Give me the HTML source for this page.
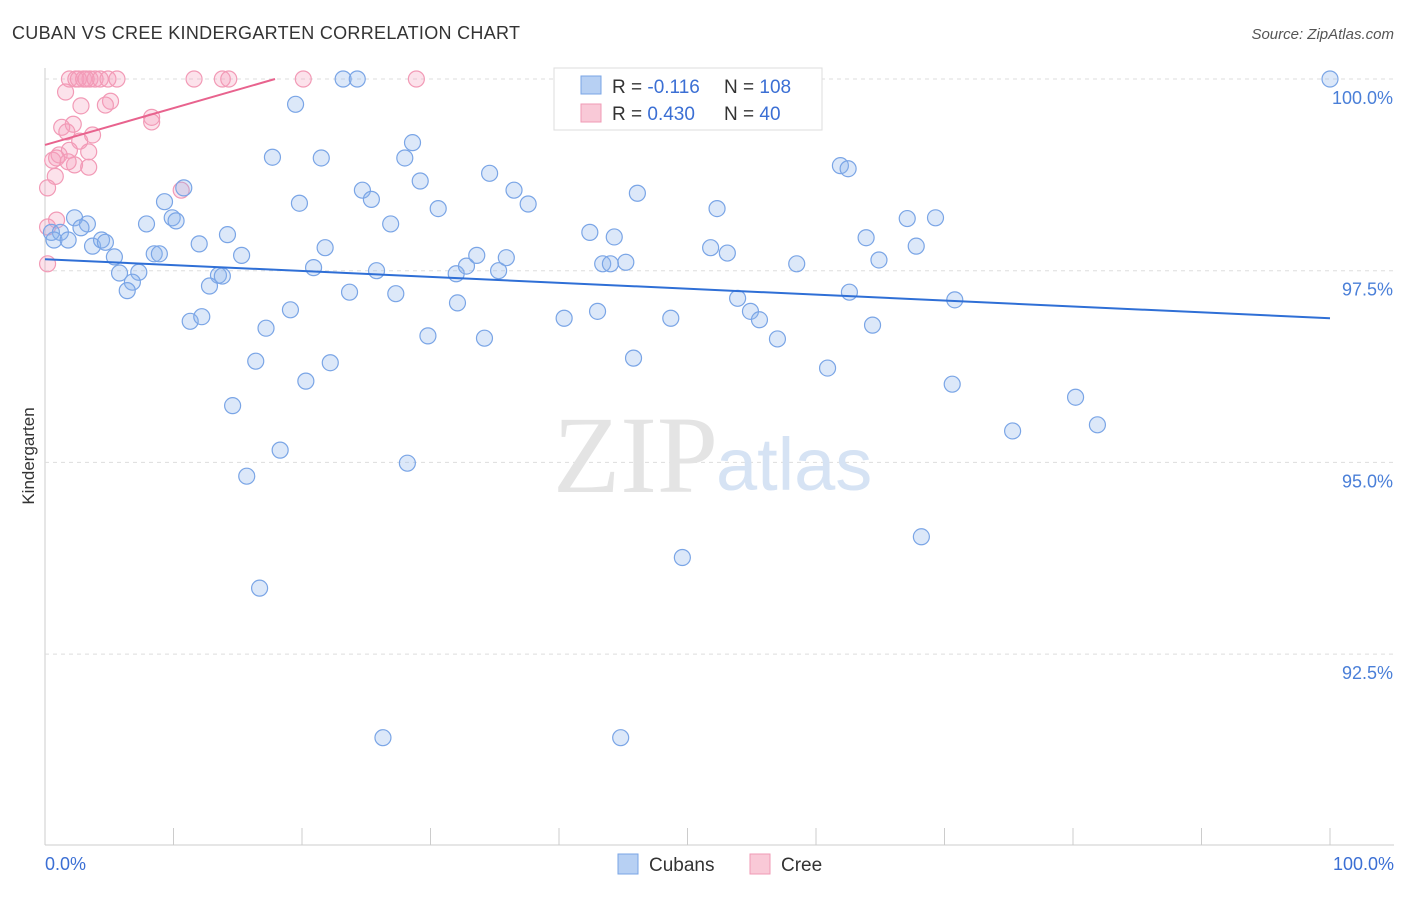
<!DOCTYPE html>
<html><head><meta charset="utf-8"><style>
body{margin:0;background:#fff;font-family:"Liberation Sans",sans-serif}
#c{position:relative;width:1406px;height:892px}
</style></head><body>
<div id="c">
<svg id="s" width="1406" height="892" xmlns="http://www.w3.org/2000/svg">
<text x="12" y="39" font-size="18" fill="#333" letter-spacing="0.3">CUBAN VS CREE KINDERGARTEN CORRELATION CHART</text>
<text x="1394" y="39" font-size="15" fill="#555" font-style="italic" text-anchor="end">Source: ZipAtlas.com</text>
<text x="34" y="456" font-size="17" fill="#333" transform="rotate(-90 34 456)" text-anchor="middle">Kindergarten</text>
<g id="grid"></g>
<text x="553" y="492" font-size="110" fill="#e4e4e4" font-family="Liberation Serif,serif">ZIP</text>
<text x="716" y="490" font-size="74" fill="#d6e3f4">atlas</text>
<g id="pts"></g>
<g id="lines"></g>
<g>
<rect x="554" y="68" width="268" height="62" fill="#fff" stroke="#ddd"/>
<rect x="581" y="76" width="20" height="18" fill="#b7d0f3" stroke="#7aa5e6"/>
<rect x="581" y="104" width="20" height="18" fill="#f9c9d7" stroke="#f09ab5"/>
<text x="612" y="93" font-size="19" fill="#333">R = <tspan fill="#3b6fd4">-0.116</tspan></text>
<text x="724" y="93" font-size="19" fill="#333">N = <tspan fill="#3b6fd4">108</tspan></text>
<text x="612" y="120" font-size="19" fill="#333">R = <tspan fill="#3b6fd4">0.430</tspan></text>
<text x="724" y="120" font-size="19" fill="#333">N = <tspan fill="#3b6fd4"> 40</tspan></text>
</g>
<g>
<rect x="618" y="854" width="20" height="20" fill="#b7d0f3" stroke="#7aa5e6"/>
<text x="649" y="871" font-size="19" fill="#333">Cubans</text>
<rect x="750" y="854" width="20" height="20" fill="#f9c9d7" stroke="#f09ab5"/>
<text x="781" y="871" font-size="19" fill="#333">Cree</text>
</g>
<text x="45" y="870" font-size="18" fill="#3b6fd4">0.0%</text>
<text x="1394" y="870" font-size="18" fill="#3b6fd4" text-anchor="end">100.0%</text>
</svg></div>
<script>
const cubanX=[100,23.2,24.3,19.5,17.7,21.5,28.0,28.6,29.2,34.6,36.5,37.6,24.7,25.4,19.8,30.6,26.9,10.8,9.3,9.9,10.2,7.9,2.3,3.3,0.5,1.2,0.7,1.8,2.8,3.7,4.4,4.7,5.4,5.8,7.3,6.8,6.4,8.5,8.9,12.0,14.2,15.3,21.8,20.9,25.8,13.5,13.8,12.8,23.7,27.3,32.0,32.8,33.6,35.3,35.9,32.1,11.3,12.2,17.2,19.1,29.8,34.2,40.4,43.0,42.4,44.3,43.4,44.0,45.2,46.1,52.3,51.8,53.1,58.5,53.9,54.9,55.6,57.0,48.7,45.8,16.4,20.3,22.2,14.6,18.3,15.7,28.2,16.7,26.3,44.8,49.6,61.9,62.5,63.9,64.9,62.6,64.4,60.9,67.1,69.3,67.8,70.8,70.6,75.3,80.2,81.9,68.2,50.7];
const cubanY=[100,100,100,99.67,98.98,98.97,98.97,99.17,98.67,98.77,98.55,98.37,98.55,98.43,98.38,98.31,98.11,98.58,98.40,98.19,98.15,98.11,98.19,98.11,98.0,98.0,97.90,97.90,98.06,97.82,97.90,97.87,97.68,97.47,97.48,97.35,97.24,97.72,97.72,97.85,97.97,97.70,97.80,97.54,97.50,97.44,97.43,97.30,97.22,97.20,97.46,97.56,97.70,97.50,97.67,97.08,96.84,96.90,96.75,96.99,96.65,96.62,96.88,96.97,98.0,97.94,97.59,97.59,97.61,98.51,98.31,97.80,97.73,97.59,97.14,96.97,96.86,96.61,96.88,96.36,96.32,96.06,96.30,95.74,95.16,94.82,94.99,93.36,91.41,91.41,93.76,98.87,98.83,97.93,97.64,97.22,96.79,96.23,98.18,98.19,97.82,97.12,96.02,95.41,95.85,95.49,94.03,100];
const creeX=[1.9,2.4,3.0,3.5,3.9,4.3,4.9,5.6,11.6,13.8,14.3,20.1,28.9,1.6,5.1,2.8,4.7,8.3,8.3,2.2,1.3,1.7,3.7,2.7,1.9,1.1,3.4,0.6,0.9,2.3,3.4,1.8,0.8,0.2,10.6,0.9,0.2,0.2,2.6,3.2];
const creeY=[100,100,100,100,100,100,100,100,100,100,100,100,100,99.83,99.71,99.65,99.66,99.50,99.44,99.41,99.37,99.31,99.27,99.19,99.07,99.01,99.05,98.94,98.97,98.88,98.85,98.92,98.73,98.58,98.55,98.16,98.07,97.59,100,100];
const cubanTrend=[[0,97.65],[100,96.88]];
const creeTrend=[[0,99.14],[17.9,100]];
const yTicks=[100,97.5,95,92.5];
const yTickLabels=["100.0%","97.5%","95.0%","92.5%"];
const xTicks=[0,10,20,30,40,50,60,70,80,90,100];
const NS="http://www.w3.org/2000/svg";
const X=v=>45+v*12.85, Y=v=>79+(100-v)*76.68;
function mk(t,a,p){const e=document.createElementNS(NS,t);for(const k in a)e.setAttribute(k,a[k]);p.appendChild(e);return e;}
const g=document.getElementById('grid');
mk('line',{x1:45,y1:68,x2:45,y2:845,stroke:'#ccc'},g);
mk('line',{x1:45,y1:845,x2:1394,y2:845,stroke:'#ccc'},g);
yTicks.forEach((t,i)=>{
 const l=mk('line',{x1:45,y1:Y(t),x2:1394,y2:Y(t),stroke:'#ddd','stroke-dasharray':'4,4'},g);
 
 
 const tx=mk('text',{x:1393,y:Y(t)+25,'font-size':18,fill:'#4a7fd8','text-anchor':'end'},g);
 tx.textContent=yTickLabels[i];
 
 
});
xTicks.forEach(t=>{
 const l=mk('line',{x1:X(t),y1:828,x2:X(t),y2:845,stroke:'#ccc'},g);
 
 
});
const p=document.getElementById('pts');
creeX.forEach((v,i)=>{
 const c=mk('circle',{cx:X(v),cy:Y(creeY[i]),r:8,fill:'rgba(246,160,188,0.3)',stroke:'#f29ab6','stroke-width':1.2},p);
 
 
});
cubanX.forEach((v,i)=>{
 const c=mk('circle',{cx:X(v),cy:Y(cubanY[i]),r:8,fill:'rgba(140,180,235,0.3)',stroke:'#7aa5e6','stroke-width':1.2},p);
 
 
});
const L=document.getElementById('lines');
const l1=mk('line',{x1:X(cubanTrend[0][0]),y1:Y(cubanTrend[0][1]),x2:X(cubanTrend[1][0]),y2:Y(cubanTrend[1][1]),stroke:'#2f6fd6','stroke-width':2},L);


const l2=mk('line',{x1:X(creeTrend[0][0]),y1:Y(creeTrend[0][1]),x2:X(creeTrend[1][0]),y2:Y(creeTrend[1][1]),stroke:'#e8638e','stroke-width':2},L);


</script>
</body></html>
